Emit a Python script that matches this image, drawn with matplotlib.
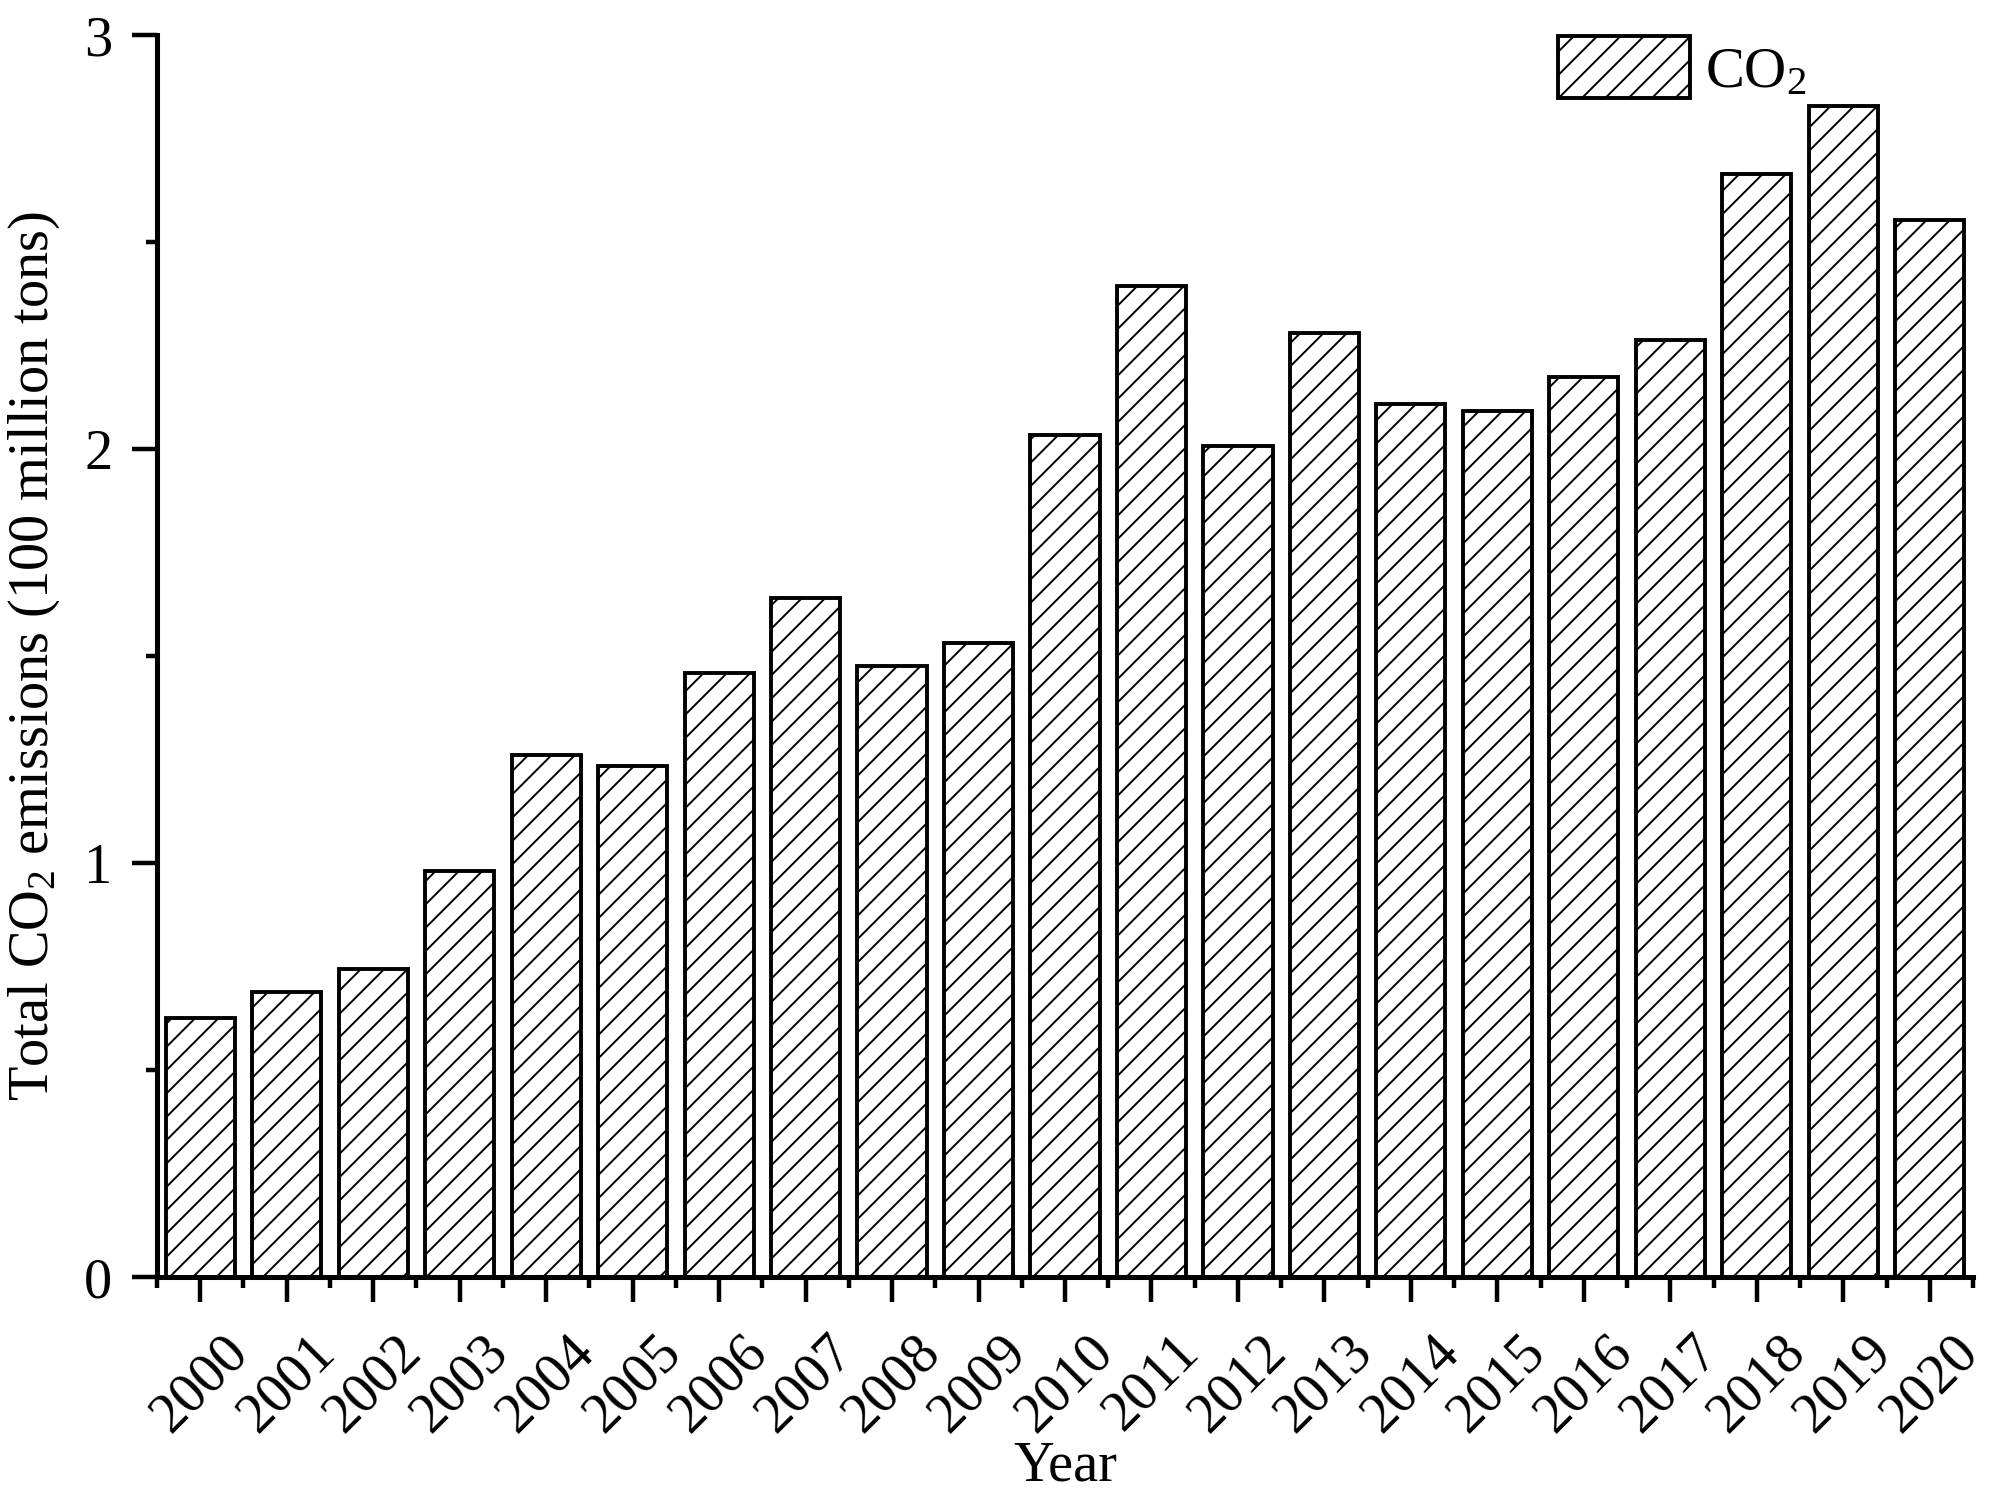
import matplotlib
matplotlib.use("Agg")
import matplotlib.pyplot as plt
from matplotlib.ticker import MultipleLocator, FixedLocator

plt.rcParams['font.family'] = ['Liberation Serif', 'DejaVu Serif']
plt.rcParams['mathtext.fontset'] = 'custom'
plt.rcParams['mathtext.rm'] = 'Liberation Serif'
plt.rcParams['mathtext.it'] = 'Liberation Serif:italic'
plt.rcParams['hatch.linewidth'] = 1.0

years = ["2000", "2001", "2002", "2003", "2004", "2005", "2006", "2007", "2008", "2009",
         "2010", "2011", "2012", "2013", "2014", "2015", "2016", "2017", "2018", "2019", "2020"]
co2 = [0.625, 0.688, 0.744, 0.980, 1.262, 1.234, 1.460, 1.639, 1.475, 1.531,
       2.035, 2.394, 2.007, 2.280, 2.109, 2.091, 2.174, 2.264, 2.665, 2.829, 2.553]
yticks = [0, 1, 2, 3]

DPI = 140
fig = plt.figure(figsize=(2008 / DPI, 1512 / DPI), dpi=DPI)
ax = fig.add_axes([157 / 2008, 1 - 1277 / 1512, (1973 - 157) / 2008, (1277 - 35) / 1512])

x = list(range(len(years)))
ax.bar(x, co2, width=0.8, facecolor='white', edgecolor='black', linewidth=2.0,
       hatch='//', label='CO$_2$')

ax.set_xlim(-0.5, len(years) - 0.5)
ax.set_ylim(0, 3)

ax.spines['top'].set_visible(False)
ax.spines['right'].set_visible(False)
ax.spines['left'].set_linewidth(2.6)
ax.spines['bottom'].set_linewidth(2.6)

ax.set_xticks(x)
ax.set_xticklabels(years, rotation=45, ha='center')
ax.xaxis.set_minor_locator(FixedLocator([i - 0.5 for i in range(len(years) + 1)]))
ax.set_yticks(yticks)
ax.set_yticklabels([str(v) for v in yticks])
ax.yaxis.set_minor_locator(MultipleLocator(0.5))

ax.tick_params(axis='both', which='major', direction='out', length=12.9, width=2.3,
               labelsize=29)
ax.tick_params(axis='both', which='minor', direction='out', length=5.7, width=2.3)
ax.tick_params(axis='x', which='major', pad=12)
ax.tick_params(axis='y', which='major', pad=10)

ax.set_xlabel('Year', fontsize=29)
ax.xaxis.set_label_coords(0.5, -0.132)
ax.set_ylabel('Total CO$_2$ emissions (100 million tons)', fontsize=29, labelpad=11.5)

leg = ax.legend(loc='upper left', bbox_to_anchor=((1558 - 157) / 1816, 0.999),
                frameon=False, fontsize=30, handlelength=2.27, handleheight=1.25,
                handletextpad=0.25, borderpad=0, borderaxespad=0)

fig.savefig('out.png', dpi=DPI)
